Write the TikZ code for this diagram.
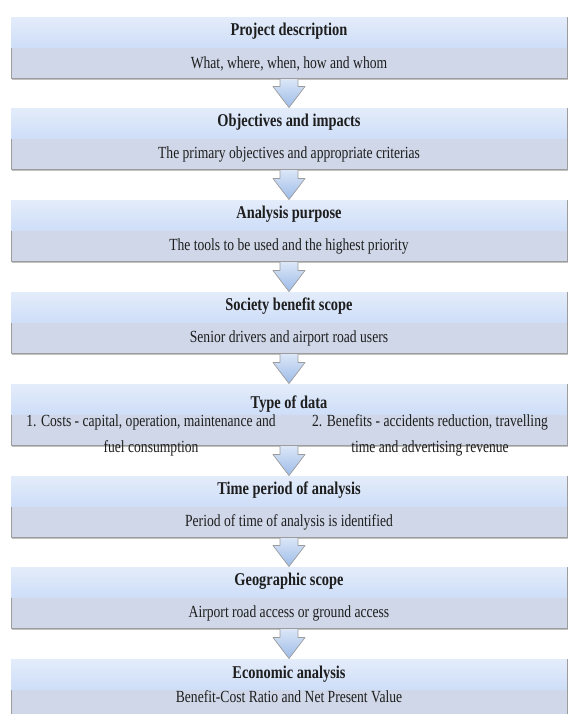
\documentclass[tikz,border=0pt]{standalone}
\usepackage{fontspec}
\setmainfont[FakeStretch=0.8]{Liberation Serif}
\usepackage{tikz}
\usetikzlibrary{calc,shadows}
\definecolor{bodyblue}{HTML}{CFD7E8}
\definecolor{headtop}{HTML}{E3ECFA}
\definecolor{headbot}{HTML}{CEDEF8}
\definecolor{edgegray}{HTML}{9C9C9C}
\definecolor{arrowtop}{HTML}{DCE7F7}
\definecolor{arrowbot}{HTML}{9DBCE8}
\definecolor{inkgray}{HTML}{1E1E1E}
\tikzset{
  stepbox/.style={draw=edgegray, line width=0.9pt, fill=bodyblue, minimum width=556pt, minimum height=61pt, inner sep=0pt,
    drop shadow={shadow xshift=0.8pt, shadow yshift=-1.8pt, opacity=0.35, fill=black!70}},
  headband/.style={top color=headtop, bottom color=headbot},
  head/.style={font=\fontsize{18}{20}\selectfont\bfseries, text=inkgray, inner sep=0pt},
  body/.style={font=\fontsize{17}{26}\selectfont, text=inkgray, inner sep=0pt, align=center},
  flow/.style={draw=edgegray, line width=0.7pt, top color=arrowtop, bottom color=arrowbot,
    to path={($(\tikztostart)+(-9,0)$) -- ($(\tikztotarget)+(-9,21)$) -- ($(\tikztotarget)+(-16,21)$) -- (\tikztotarget) -- ($(\tikztotarget)+(16,21)$) -- ($(\tikztotarget)+(9,21)$) -- ($(\tikztostart)+(9,0)$) -- cycle}}
}
\begin{document}
\begin{tikzpicture}[x=1pt, y=1pt, line join=round]
\useasboundingbox (0,0) rectangle (568,714);
\node[stepbox] (s1) at (289,666.5) {};
\fill[headband] ($(s1.north west)+(0.5,-0.5)$) rectangle ($(s1.north east)+(-0.5,-31)$);
\node[head] (s1h) at ($(s1.north)+(0,-15)$) {Project description};
\node[body] (s1b) at ($(s1.south)+(0,15)$) {What, where, when, how and whom};
\node[stepbox] (s2) at (289,575.5) {};
\fill[headband] ($(s2.north west)+(0.5,-0.5)$) rectangle ($(s2.north east)+(-0.5,-31)$);
\node[head] (s2h) at ($(s2.north)+(0,-15)$) {Objectives and impacts};
\node[body] (s2b) at ($(s2.south)+(0,15)$) {The primary objectives and appropriate criterias};
\node[stepbox] (s3) at (289,483.5) {};
\fill[headband] ($(s3.north west)+(0.5,-0.5)$) rectangle ($(s3.north east)+(-0.5,-31)$);
\node[head] (s3h) at ($(s3.north)+(0,-15)$) {Analysis purpose};
\node[body] (s3b) at ($(s3.south)+(0,15)$) {The tools to be used and the highest priority};
\node[stepbox] (s4) at (289,391.5) {};
\fill[headband] ($(s4.north west)+(0.5,-0.5)$) rectangle ($(s4.north east)+(-0.5,-31)$);
\node[head] (s4h) at ($(s4.north)+(0,-15)$) {Society benefit scope};
\node[body] (s4b) at ($(s4.south)+(0,15)$) {Senior drivers and airport road users};
\node[stepbox] (s5) at (289,299.5) {};
\fill[headband] ($(s5.north west)+(0.5,-0.5)$) rectangle ($(s5.north east)+(-0.5,-31)$);
\node[head] (s5h) at ($(s5.north)+(0,-21)$) {Type of data};
\node[body] (s5l) at (151,279) {1. Costs - capital, operation, maintenance and\\fuel consumption};
\node[body] (s5r) at (430,279) {2. Benefits - accidents reduction, travelling\\time and advertising revenue};
\node[stepbox] (s6) at (289,207.5) {};
\fill[headband] ($(s6.north west)+(0.5,-0.5)$) rectangle ($(s6.north east)+(-0.5,-31)$);
\node[head] (s6h) at ($(s6.north)+(0,-15)$) {Time period of analysis};
\node[body] (s6b) at ($(s6.south)+(0,15)$) {Period of time of analysis is identified};
\node[stepbox] (s7) at (289,116.5) {};
\fill[headband] ($(s7.north west)+(0.5,-0.5)$) rectangle ($(s7.north east)+(-0.5,-31)$);
\node[head] (s7h) at ($(s7.north)+(0,-15)$) {Geographic scope};
\node[body] (s7b) at ($(s7.south)+(0,15)$) {Airport road access or ground access};
\node[stepbox] (s8) at (289,24.5) {};
\fill[headband] ($(s8.north west)+(0.5,-0.5)$) rectangle ($(s8.north east)+(-0.5,-31)$);
\node[head] (s8h) at ($(s8.north)+(0,-16)$) {Economic analysis};
\node[body] (s8b) at ($(s8.north)+(0,-38)$) {Benefit-Cost Ratio and Net Present Value};
\draw[flow] (s1.south) to (s2.north);
\draw[flow] (s2.south) to (s3.north);
\draw[flow] (s3.south) to (s4.north);
\draw[flow] (s4.south) to (s5.north);
\draw[flow] (s5.south) to (s6.north);
\draw[flow] (s6.south) to (s7.north);
\draw[flow] (s7.south) to (s8.north);
\end{tikzpicture}
\end{document}
